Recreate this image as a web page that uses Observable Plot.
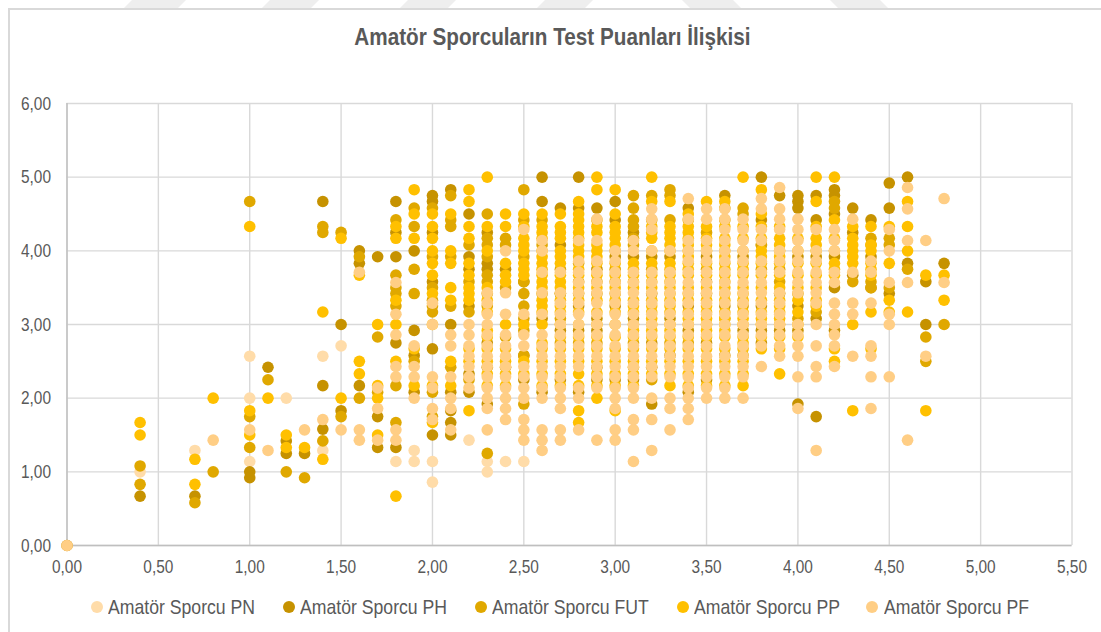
<!DOCTYPE html>
<html><head><meta charset="utf-8">
<style>
html,body{margin:0;padding:0;background:#fff;}
#page{position:relative;width:1101px;height:632px;overflow:hidden;font-family:"Liberation Sans",Arial,sans-serif;color:#595959;}
#frame{position:absolute;left:8px;top:8px;width:1200px;height:700px;border-left:2px solid #D9D9D9;border-top:2px solid #D9D9D9;}
#title{position:absolute;left:0;width:1105px;top:22px;text-align:center;font-weight:bold;font-size:24px;line-height:30px;transform:scaleX(.862);transform-origin:center;}
#plot{position:absolute;left:0;top:70px;}
.lg{position:absolute;top:595px;font-size:21px;line-height:24px;white-space:nowrap;transform:scaleX(.84);transform-origin:left center;}
.sw{position:absolute;top:601px;width:12px;height:12px;border-radius:50%;}
.stripe{position:absolute;left:0;top:0;}
</style></head><body>
<div id="page">
<svg class="stripe" width="1101" height="8"><g fill="#EEEEEE"><polygon points="132,0 186,0 178,8 124,8"/><polygon points="270,0 319,0 311,8 262,8"/><polygon points="408,0 456,0 448,8 400,8"/><polygon points="545,0 593,0 585,8 537,8"/><polygon points="682,0 733,0 741,8 690,8"/><polygon points="830,0 880,0 888,8 838,8"/></g></svg>
<div id="frame"></div>
<div id="title">Amatör Sporcuların Test Puanları İlişkisi</div>
<div id="plot"></div>
<div id="legend"></div>
</div>
<script src="https://cdn.jsdelivr.net/npm/d3@7"></script>
<script src="https://cdn.jsdelivr.net/npm/@observablehq/plot@0.6"></script>
<script>
const seriesNames = ["Amatör Sporcu PN","Amatör Sporcu PH","Amatör Sporcu FUT","Amatör Sporcu PP","Amatör Sporcu PF"];
const seriesColors = ["#FFDCA9","#C69200","#E0A800","#FFC000","#FFCE85"];
const legendDotX = [91,283,475,677,866];
const legendTextX = [108,300,492,694,884];
const xTicks = [0,0.5,1,1.5,2,2.5,3,3.5,4,4.5,5,5.5];
const yTicks = [0,1,2,3,4,5,6];

const pnColumns = [
 [0.4,[1]],[0.7,[1.29]],[1,[2.57,2,1.14]],[1.2,[2]],[1.4,[2.57,1.29]],[1.5,[2.71]],
 [1.8,[1.14]],[1.9,[1.29,1.14]],[2,[1.14,0.86]],[2.3,[1.14,1]],[2.4,[1.14]],[2.5,[1.14]],[2.2,[1.43]]
];
const phColumns = [
 [0,[0]],[0.4,[0.67]],[0.7,[0.67]],[1,[1,0.92]],[1.1,[2.42]],[1.2,[1.42,1.25]],[1.3,[1.25]],
 [1.4,[4.67,2.17,1.58]],[1.5,[3,1.83]],[1.6,[4,3.83,2.17]],[1.7,[3.92,1.75,1.33]],
 [1.8,[4.67,4.25,3.92,2.75,1.33]],[1.9,[4,2.92,2.58,2.08]],[2,[4.75,4.67,4.25,3.58,2.67,1.5]],
 [2.1,[4.83,3,2.08,1.83,1.67,1.5]],[2.2,[4.5,3.92,3.75,3.25,2.33,2.08]],
 [2.3,[4.25,3.83,3.75,2.75,2.42,1.92]],[2.4,[3.75,2.42]],[2.5,[3.58,2.58,2.25]],
 [2.6,[5,4.67,3.08,2.08]],[2.7,[4.58,4.08,3.42,2.92,2.25]],[2.8,[5,4.58,3.25,2.92,2.08]],
 [2.9,[4.58,3.75,3.08,2.92,2.42,2.25]],[3,[4.67,4.42,3.92,3.25,2.25]],[3.1,[4.25,3.92,3.08,2.25]],
 [3.2,[3.92,3.42,2.75,2.42,1.92]],[3.3,[3.92,3.08,2.58]],[3.4,[4.58,3.25,2.92,2.08]],
 [3.5,[3.92,3.58,2.75,2.25]],[3.6,[4.75,3.25,2.58]],[3.7,[3.92,2.92]],
 [3.8,[5,4.42,4.08,3.25,2.92,2.75]],[3.9,[4.75,3.42,2.92]],[4,[4.75,4.67,4.58,3.92,3.25,2.92,1.92]],
 [4.1,[4.75,4.42,3.92,3.08,1.75]],[4.2,[4.83,4.75,4.5,3.92,3.5,2.92]],[4.3,[4.58,4.25,3.67]],
 [4.4,[4.42,3.92,3.5]],[4.5,[4.92,4.58,3.42]],[4.6,[5,3.83]],[4.7,[3.58,3]],[4.8,[3.83]]
];
const futColumns = [
 [0.4,[1.08,0.83]],[0.7,[0.58]],[0.8,[1]],[1,[4.67,1.75,1.33]],[1.1,[2.25]],[1.2,[1]],[1.3,[0.92]],
 [1.4,[4.33,4.25,1.42]],[1.5,[4.25,1.75]],[1.6,[3.92,2]],[1.7,[2.83,2.08]],
 [1.8,[4.42,3.67,3.5,3.42,3.25,2.17,1.67]],[1.9,[4.58,4.33,3.75,3.42,2.5]],
 [2,[4.58,3.92,3.5,3.33,3.25,3.17,2.08,1.75]],[2.1,[4.75,4.42,4.33,3.92,3.25,2.42]],
 [2.2,[4.08,3.58,3.17,2.25]],[2.3,[4.5,4.17,4.08,3.92,3.67,3.58,3.42,3.25,1.25]],
 [2.4,[4.17,4.08,3.5,2.83]],[2.5,[4.83,4.42,3.92,3.58,3.42,3.25,3.08,2.92,2.58,1.92]],
 [2.6,[4.42,4.08,3.42]],[2.7,[3.75,3.42,3.08,2.75]],[2.8,[3.83,3.58,3.42,2.75]],[2.9,[4.42,3.58,3.42,2.75]],
 [3,[4,3.75,3.58,3.42]],[3.1,[4.75,4.58,4.42,4.33,4.17,4.08,2.75,2.42]],[3.2,[4.75,4.42,3.75,2.25]],
 [3.3,[4.83,4.75,4.42,2.75]],[3.4,[4.42,2.75]],[3.5,[4.25,3.75,3.42]],[3.6,[4.58,4.42,3.08]],
 [3.7,[4.58,4.5,3.25,2.58]],[3.8,[4.08,3.75]],[3.9,[3.75,3.58]],[4,[3.42,3.08]],
 [4.1,[3.17]],[4.2,[4.67,4.58]],[4.3,[3.58]],[4.4,[4.17,4.08,3.58,3.5]],[4.5,[4.17,4.08,3.5]],
 [4.6,[3.75]],[4.7,[2.83,2.5]],[4.8,[3]]
];
const ppColumns = [
 [0.4,[1.67,1.5]],[0.7,[1.17,0.83]],[0.8,[2]],[1,[4.33,1.83,1.5]],[1.1,[2]],[1.2,[1.5,1.33]],[1.3,[1.33]],
 [1.4,[3.17,1.17]],[1.5,[4.17,2]],[1.6,[3.67,2.5,2.33]],[1.7,[3,2.17,2,1.5]],
 [1.8,[4.33,4.17,3.33,3,2.5,0.67]],[1.9,[4.83,4.5,4.17,2.67,2.17]],
 [2,[4.5,4.33,4.17,4,3.83,3.67,3.42,3,2.17,1.67]],[2.1,[4.5,4,3.83,3.5,3.33,2.5,2.17]],
 [2.2,[4.83,4.67,4.33,4.17,3.83,3.67,3.5,3.42,3.33,2.67,2.5,1.83]],
 [2.3,[5,4.33,4,3.5,3.33,3.17,2.92,2.83,2.67,2.5,2.33,2.17]],
 [2.4,[4.5,4.33,3.83,3.67,3.58,3,2.67,2.5,2.33,2.17]],
 [2.5,[4.5,4.33,4.17,4.08,4,3.83,3.75,3.67,3,2.5,2.33]],
 [2.6,[4.5,4.33,4.25,4.17,4,3.92,3.83,3.75,3.67,3.58,3.5,3.33,3.25,3.17,3,2.75,2.67,2.5,2.33,2.17]],
 [2.7,[4.5,4.33,4.25,4.17,4,3.92,3.83,3.67,3.58,3.5,3.33,3.25,3.17,3,2.83,2.67,2.5,2.33,2.17]],
 [2.8,[4.67,4.5,4.42,4.33,4.25,4.17,4.08,4,3.92,3.75,3.67,3.5,3.33,3.17,3,2.83,2.67,2.5,2.33,2.17,1.83,1.67]],
 [2.9,[5,4.83,4.33,4.25,4.08,4,3.92,3.83,3.67,3.5,3.33,3.17,3,2.83,2.67,2.5,2.33,2.17,2]],
 [3,[4.83,4.5,4.33,4.25,4.17,4.08,3.83,3.67,3.5,3.33,3.17,3,2.83,2.67,2.5,2.33,2.17,1.83]],
 [3.1,[3.83,3.75,3.67,3.58,3.5,3.33,3.25,3.17,3,2.92,2.83,2.67,2.5,2.33,2.17]],
 [3.2,[5,4.67,4.33,4.25,4.17,4,3.83,3.67,3.58,3.5,3.33,3.25,3.17,3.08,3,2.92,2.83,2.67,2.5,2.33]],
 [3.3,[4.67,4.33,4.25,4.17,4.08,4,3.83,3.75,3.67,3.58,3.5,3.42,3.33,3.25,3.17,3,2.92,2.83,2.67,2.5,2.33,2.17]],
 [3.4,[4.5,4.33,4.25,4.17,4.08,4,3.92,3.83,3.75,3.67,3.5,3.42,3.33,3.17,3.08,3,2.83,2.67,2.5,2.33,2.17]],
 [3.5,[4.67,4.33,4.17,4.08,4,3.83,3.67,3.5,3.33,3.25,3.17,3.08,3,2.92,2.83,2.67,2.5,2.33,2.17]],
 [3.6,[4.67,4.33,4.17,4.08,4,3.92,3.83,3.75,3.67,3.58,3.5,3.42,3.33,3.17,3.08,3,2.92,2.83,2.67,2.5,2.33,2.17]],
 [3.7,[5,4.33,4.17,4,3.83,3.75,3.67,3.5,3.42,3.33,3.17,3.08,3,2.83,2.75,2.67,2.5,2.33,2.17]],
 [3.8,[4.83,4.5,4.33,4.17,4,3.92,3.83,3.67,3.5,3.33,3.17,3.08,3,2.83,2.67]],
 [3.9,[4.33,4.17,4.08,4,3.92,3.83,3.67,3.5,3.33,3.25,3.17,3.08,3,2.83,2.67,2.33]],
 [4,[4.17,4,3.83,3.67,3.5,3.33,3.17,3,2.83]],
 [4.1,[5,4.67,4.33,4.17,4.08,4,3.83,3.67,3.5,3.33,3.25]],
 [4.2,[5,4.42,4.17,4,3.83,3.75,3.67,2.67,2.5]],
 [4.3,[4.33,4.17,4.08,4,3.92,3.83,3,1.83]],
 [4.4,[4.33,4.08,4,3.83,3.75,3.67,3.17,2.67]],
 [4.5,[4.33,3.83,3.33,3.17]],[4.6,[4.67,4.33,4,3.17]],[4.7,[3.67,1.83]],[4.8,[3.67,3.33]]
];
const pfColumns = [
 [0,[0]],[0.8,[1.43]],[1,[1.57]],[1.1,[1.29]],[1.3,[1.57]],[1.4,[1.71]],[1.5,[1.57]],
 [1.6,[3.71,1.57,1.43]],[1.7,[2.14,1.86,1.43]],[1.8,[3.57,3.14,2.86,2.43,2.29,1.57,1.43]],
 [1.9,[2.71,2.43,2.29,2]],[2,[3.29,3,2.29,2.14,1.86,1.71]],[2.1,[2.86,2.71,2.29,2,1.86,1.57]],
 [2.2,[3,2.86,2.71,2.57,2.43,2.29,2.14]],
 [2.3,[3.43,3.29,3.14,3,2.86,2.71,2.57,2.43,2.29,2.14,2,1.86,1.57]],
 [2.4,[4,3.43,3.14,2.86,2.71,2.57,2.43,2.29,2.14,2,1.86,1.71]],
 [2.5,[4.29,3.14,2.86,2.71,2.43,2.29,2.14,2,1.71,1.57,1.43]],
 [2.6,[4.14,4,3.71,3.43,3.14,2.86,2.71,2.57,2.43,2.29,2.14,2,1.57,1.43,1.29]],
 [2.7,[3.71,3.43,3.29,3.14,3,2.86,2.71,2.57,2.43,2.29,2.14,2,1.86,1.57,1.43]],
 [2.8,[4.14,3.86,3.71,3.57,3.43,3.29,3.14,3,2.86,2.71,2.57,2.43,2.14,2,1.57]],
 [2.9,[4.43,4.14,3.86,3.71,3.57,3.43,3.29,3.14,3,2.86,2.71,2.57,2.43,2.29,2.14,1.43]],
 [3,[4,3.86,3.71,3.57,3.43,3.29,3.14,3,2.86,2.71,2.57,2.43,2.29,2.14,2,1.86,1.57,1.43]],
 [3.1,[4.14,4,3.71,3.57,3.43,3.29,3.14,3,2.86,2.71,2.57,2.43,2.29,2.14,2,1.71,1.57,1.14]],
 [3.2,[4.57,4.43,4.29,4,3.71,3.57,3.43,3.29,3.14,3,2.86,2.71,2.57,2.43,2.29,2,1.71,1.29]],
 [3.3,[4,3.71,3.57,3.43,3.29,3.14,3,2.86,2.71,2.57,2.43,2.29,2,1.86,1.57]],
 [3.4,[4.71,4.43,4.14,4,3.86,3.71,3.57,3.43,3.29,3.14,3,2.86,2.71,2.57,2.43,2.29,2.14,2,1.86,1.71]],
 [3.5,[4.57,4.43,4.14,4,3.86,3.71,3.57,3.43,3.29,3.14,3,2.86,2.71,2.57,2.43,2.29,2.14,2]],
 [3.6,[4.57,4.43,4.29,4.14,4,3.86,3.71,3.57,3.43,3.29,3.14,3,2.86,2.71,2.57,2.43,2.29,2.14,2]],
 [3.7,[4.43,4.29,4.14,4,3.86,3.71,3.57,3.43,3.29,3.14,3,2.86,2.71,2.57,2.43,2.29,2]],
 [3.8,[4.71,4.57,4.29,4.14,3.86,3.71,3.57,3.43,3.29,3.14,3,2.86,2.71,2.43]],
 [3.9,[4.86,4.57,4.43,4.29,4,3.86,3.71,3.43,3.29,3.14,3,2.86,2.71,2.57]],
 [4,[4.43,4.29,4.14,4,3.86,3.71,3.57,3.43,3,2.86,2.71,2.57,2.29,1.86]],
 [4.1,[4.29,4,3.86,3.71,3.57,3.43,3.29,3,2.71,2.43,2.29,1.29]],
 [4.2,[4.29,4.14,4,3.71,3.57,3.29,3.14,3,2.86,2.71,2.43]],
 [4.3,[4.43,3.71,3.29,3.14,2.57]],[4.4,[3.86,3.71,3.29,2.71,2.57,2.29,1.86]],
 [4.5,[4.29,4,3.57,3.14,3,2.29]],[4.6,[4.86,4.57,4.14,3.57,1.43]],[4.7,[4.14,2.57]],[4.8,[4.71,3.57]]
];
const allColumns = [pnColumns,phColumns,futColumns,ppColumns,pfColumns];

const points = allColumns.flatMap((cols,s) => cols.flatMap(([x,ys]) => ys.map(y => ({x,y,s:seriesNames[s]}))));
const comma = d => d.toFixed(2).replace(".",",");

const chart = Plot.plot({
  width:1101, height:520,
  marginTop:33, marginBottom:45, marginLeft:66.5, marginRight:29.5,
  style:{background:"transparent",fontFamily:'"Liberation Sans",Arial,sans-serif',fontSize:"19px",color:"#595959",overflow:"visible"},
  x:{domain:[0,5.5],ticks:xTicks,tickFormat:comma,tickSize:0,tickPadding:14,label:null},
  y:{domain:[0,6],ticks:yTicks,tickFormat:comma,tickSize:0,tickPadding:16,label:null},
  color:{domain:seriesNames,range:seriesColors},
  marks:[
    Plot.gridX(xTicks,{stroke:"#D9D9D9",strokeOpacity:1,strokeWidth:1.4}),
    Plot.gridY(yTicks,{stroke:"#D9D9D9",strokeOpacity:1,strokeWidth:1.4}),
    Plot.ruleX([0],{stroke:"#BFBFBF",strokeWidth:1.4}),
    Plot.ruleY([0],{stroke:"#BFBFBF",strokeWidth:1.4}),
    Plot.dot(points,{x:"x",y:"y",fill:"s",r:5.8,stroke:"none"})
  ]
});
document.getElementById("plot").append(chart);
chart.querySelectorAll('[aria-label="x-axis tick label"] text, [aria-label="y-axis tick label"] text').forEach(t=>{
  t.setAttribute("textLength","30");
  t.setAttribute("lengthAdjust","spacingAndGlyphs");
});

const legend = document.getElementById("legend");
seriesNames.forEach((name,i)=>{
  const sw=document.createElement("span");sw.className="sw";sw.style.left=legendDotX[i]+"px";sw.style.background=seriesColors[i];
  const t=document.createElement("span");t.className="lg";t.style.left=legendTextX[i]+"px";t.textContent=name;
  legend.append(sw,t);
});
</script>
</body></html>
